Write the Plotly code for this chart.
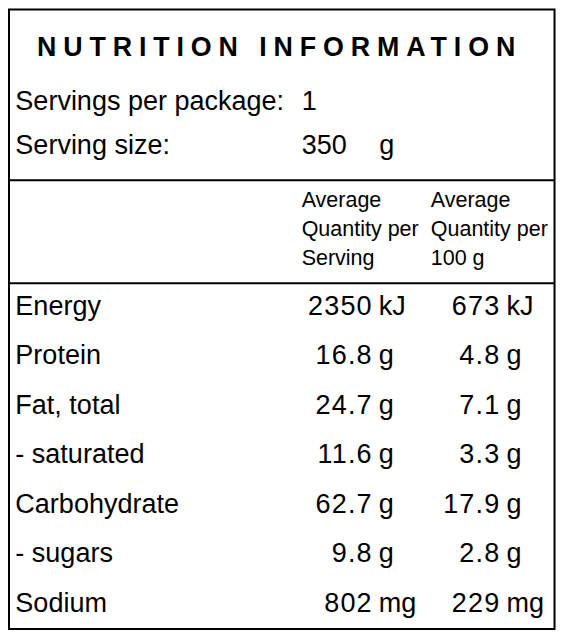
import plotly.graph_objects as go

# panel text
title = "NUTRITION INFORMATION"
servings_label = "Servings per package:"
servings_value = "1"
size_label = "Serving size:"
size_value = "350"
size_unit = "g"
header_serving = ["Average", "Quantity per", "Serving"]
header_100g = ["Average", "Quantity per", "100 g"]

# nutrient rows
nutrients = ["Energy", "Protein", "Fat, total", "- saturated", "Carbohydrate", "- sugars", "Sodium"]
per_serving = [2350, 16.8, 24.7, 11.6, 62.7, 9.8, 802]
per_100g = [673, 4.8, 7.1, 3.3, 17.9, 2.8, 229]
units = ["kJ", "g", "g", "g", "g", "g", "mg"]

# figure is shrunk by the 8px page margin on each side so nothing scrolls;
# data coords are the reference pixels, the axis ranges map them in
W, H = 548, 622
XR = [3, 561]
YR = [634, 6]
FONT = "Arial, Liberation Sans, sans-serif"
fs = 27
fs_head = 21.5

row_y = [309 + 50 * i for i in range(len(nutrients))]
head_y = [201, 231, 260.5]


def txt(x, y, text, pos, size=fs, bold=False):
    return go.Scatter(
        x=x, y=y, text=text, mode="text", textposition=pos,
        textfont=dict(family=FONT, size=size, color="black", weight="bold" if bold else "normal"),
        hoverinfo="skip", showlegend=False, cliponaxis=False,
    )


def spaced(values, px):
    return [f'<span style="letter-spacing:{px}px">{v:g}</span>' for v in values]


fig = go.Figure()

# title with wide letter spacing
fig.add_trace(txt([279.5], [48], ['<span style="letter-spacing:6.9px">' + title + "</span>"],
                  "middle center", size=26.8, bold=True))

# servings info
fig.add_trace(txt([10.5, 10.5], [102, 147], [servings_label, size_label], "middle right"))
fig.add_trace(txt([302, 302], [102, 147], [servings_value, size_value], "middle right"))
fig.add_trace(txt([381], [147], [size_unit], "middle right"))

# column headers
fig.add_trace(txt([302] * 3, head_y, header_serving, "middle right", size=fs_head))
fig.add_trace(txt([433.5] * 3, head_y, header_100g, "middle right", size=fs_head))

# nutrient table
fig.add_trace(txt([374.5] * len(nutrients), row_y, spaced(per_serving, 1.2), "middle left"))
fig.add_trace(txt([10.5] * len(nutrients), row_y, nutrients, "middle right"))
fig.add_trace(txt([380.5] * len(nutrients), row_y, units, "middle right"))
fig.add_trace(txt([504.5] * len(nutrients), row_y, spaced(per_100g, 1.2), "middle left"))
fig.add_trace(txt([510.5] * len(nutrients), row_y, units, "middle right"))

# frame and rules
line = dict(color="black", width=2)
fig.add_shape(type="rect", x0=4, x1=559.5, y0=7.5, y1=633, line=line, xref="x", yref="y")
for yy in [180, 284]:
    fig.add_shape(type="line", x0=4, x1=559.5, y0=yy, y1=yy, line=line, xref="x", yref="y")

fig.update_xaxes(range=XR, visible=False, fixedrange=True)
fig.update_yaxes(range=YR, visible=False, fixedrange=True)
fig.update_layout(
    width=W, height=H,
    margin=dict(l=0, r=0, t=0, b=0),
    paper_bgcolor="white", plot_bgcolor="white",
)

fig.write_html("out.html")
